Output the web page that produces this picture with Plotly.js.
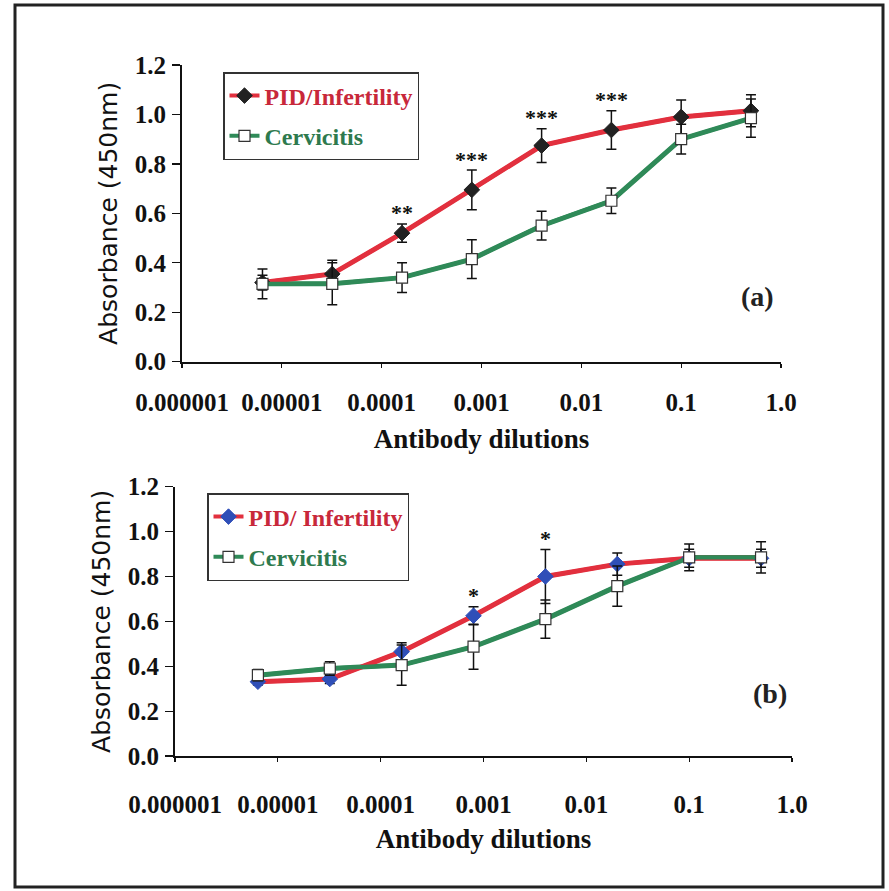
<!DOCTYPE html>
<html>
<head>
<meta charset="utf-8">
<script src="https://cdn.plot.ly/plotly-3.0.1.min.js"></script>
<style>
  html, body { margin: 0; padding: 0; background: #ffffff; }
  #chart { width: 889px; height: 891px; }
</style>
</head>
<body>
<div id="chart"></div>
<script>
// ---------- data ----------
const dilutions = [0.0000064, 0.000032, 0.00016, 0.0008, 0.004, 0.02, 0.1, 0.5];
const tickVals = [1e-6, 1e-5, 1e-4, 1e-3, 1e-2, 1e-1, 1];
const tickText = ['0.000001', '0.00001', '0.0001', '0.001', '0.01', '0.1', '1.0'];
const yTickVals = [0, 0.2, 0.4, 0.6, 0.8, 1.0, 1.2];
const yTickText = ['0.0', '0.2', '0.4', '0.6', '0.8', '1.0', '1.2'];

const namesA = ['PID/Infertility', 'Cervicitis'];
const namesB = ['PID/ Infertility', 'Cervicitis'];
const panelLabels = ['(a)', '(b)'];
const xTitle = 'Antibody dilutions';
const yTitle = 'Absorbance (450nm)';

// panel (a)
const pidA    = [0.32, 0.355, 0.52, 0.695, 0.874, 0.937, 0.99, 1.015];
const pidAErr = [0.03, 0.055, 0.037, 0.08, 0.068, 0.078, 0.068, 0.065];
const cerA    = [0.315, 0.315, 0.34, 0.415, 0.55, 0.651, 0.90, 0.985];
const cerAErr = [0.06, 0.085, 0.06, 0.078, 0.058, 0.052, 0.06, 0.077];
const sigA    = ['', '', '**', '***', '***', '***', '', ''];

// panel (b)
const pidB    = [0.331, 0.343, 0.465, 0.625, 0.80, 0.855, 0.881, 0.881];
const pidBErr = [0.015, 0.02, 0.04, 0.04, 0.12, 0.05, 0.04, 0.04];
const cerB    = [0.36, 0.39, 0.405, 0.487, 0.61, 0.757, 0.885, 0.885];
const cerBErr = [0.025, 0.03, 0.09, 0.1, 0.085, 0.09, 0.06, 0.07];
const sigB    = ['', '', '', '*', '*', '', '', ''];

// ---------- styles ----------
const RED = '#e2303e', RED_HI = '#f59aa4';
const GREEN = '#2f8a58', GREEN_HI = '#8fcfa8';
const SERIF = 'Liberation Serif, Times New Roman, serif';
const SANS = 'DejaVu Sans, sans-serif';

function errBar(arr) {
  return { type: 'data', array: arr, visible: true, color: '#111', thickness: 1.5, width: 5 };
}

function panelTraces(pid, pidErr, cer, cerErr, names, xa, ya, leg, pidMarkerColor) {
  return [
    { x: dilutions, y: cer, xaxis: xa, yaxis: ya, type: 'scatter', mode: 'lines',
      line: { color: GREEN, width: 5 }, showlegend: false, hoverinfo: 'skip' },
    { x: dilutions, y: cer, xaxis: xa, yaxis: ya, type: 'scatter', mode: 'lines',
      line: { color: GREEN_HI, width: 1 }, showlegend: false, hoverinfo: 'skip' },
    { x: dilutions, y: pid, xaxis: xa, yaxis: ya, type: 'scatter', mode: 'lines',
      line: { color: RED, width: 5 }, showlegend: false, hoverinfo: 'skip' },
    { x: dilutions, y: pid, xaxis: xa, yaxis: ya, type: 'scatter', mode: 'lines',
      line: { color: RED_HI, width: 1 }, showlegend: false, hoverinfo: 'skip' },
    { x: dilutions, y: pid, xaxis: xa, yaxis: ya, type: 'scatter', mode: 'lines+markers',
      name: '<span style="color:#c8283a">' + names[0] + '</span>',
      legend: leg, legendgroup: leg + 'p',
      line: { color: RED, width: 4 },
      marker: { symbol: 'diamond', size: 12, color: pidMarkerColor, line: { color: pidMarkerColor, width: 1 } },
      error_y: errBar(pidErr) },
    { x: dilutions, y: cer, xaxis: xa, yaxis: ya, type: 'scatter', mode: 'lines+markers',
      name: '<span style="color:#2e7a4e">' + names[1] + '</span>',
      legend: leg, legendgroup: leg + 'c',
      line: { color: GREEN, width: 4 },
      marker: { symbol: 'square', size: 11, color: '#ffffff', line: { color: '#333', width: 1.2 } },
      error_y: errBar(cerErr) }
  ];
}

const traces = [].concat(
  panelTraces(pidA, pidAErr, cerA, cerAErr, namesA, 'x', 'y', 'legend', '#222222'),
  panelTraces(pidB, pidBErr, cerB, cerBErr, namesB, 'x2', 'y2', 'legend2', '#2f4fb8')
);

function sigAnnotations(sig, pid, pidErr, xr, yr) {
  const out = [];
  sig.forEach((s, i) => {
    if (!s) return;
    out.push({ x: Math.log10(dilutions[i]), y: pid[i] + pidErr[i], xref: xr, yref: yr,
      text: s, showarrow: false, xanchor: 'center', yanchor: 'middle', yshift: 11,
      font: { family: SERIF, size: 22, color: '#111', weight: 'bold' } });
  });
  return out;
}

function xAxis(domain, anchor, standoff, titleStandoff) {
  return {
    type: 'log', range: [-6, 0], domain: domain, anchor: anchor,
    tickvals: tickVals, ticktext: tickText,
    ticks: 'outside', ticklen: 4, tickwidth: 1.2, tickcolor: '#111',
    showline: true, linecolor: '#111', linewidth: 2,
    showgrid: false, zeroline: false,
    ticklabelstandoff: standoff,
    tickfont: { family: SERIF, size: 25, color: '#111', weight: 'bold' },
    title: { text: xTitle, standoff: titleStandoff, font: { family: SERIF, size: 27, color: '#111', weight: 'bold' } },
    automargin: false
  };
}
function yAxis(domain, anchor, titleSize, titleStandoff) {
  return {
    range: [0, 1.2], domain: domain, anchor: anchor,
    tickvals: yTickVals, ticktext: yTickText,
    ticks: 'outside', ticklen: 8, tickwidth: 1.2, tickcolor: '#111',
    showline: true, linecolor: '#111', linewidth: 2,
    showgrid: false, zeroline: false,
    ticklabelstandoff: 1,
    tickfont: { family: SERIF, size: 25, color: '#111', weight: 'bold' },
    title: { text: yTitle, standoff: titleStandoff, font: { family: SANS, size: titleSize, color: '#111' } },
    automargin: false
  };
}

const W = 889, H = 891;
const layout = {
  width: W, height: H,
  margin: { l: 0, r: 0, t: 0, b: 0 },
  paper_bgcolor: '#ffffff', plot_bgcolor: 'rgba(0,0,0,0)',
  showlegend: true,
  xaxis:  xAxis([182 / W, 781 / W], 'y', 13, 14),
  yaxis:  yAxis([1 - 361.7 / H, 1 - 65 / H], 'x', 25, 10),
  xaxis2: xAxis([175 / W, 792 / W], 'y2', 21, 12),
  yaxis2: yAxis([1 - 756 / H, 1 - 486.7 / H], 'x2', 25, 10),
  legend: {
    x: 223 / W, y: 1 - 72 / H, xanchor: 'left', yanchor: 'top',
    bgcolor: '#ffffff', bordercolor: '#333', borderwidth: 1.5,
    traceorder: 'grouped', tracegroupgap: 6,
    font: { family: SERIF, size: 24, weight: 'bold' }
  },
  legend2: {
    x: 207 / W, y: 1 - 493 / H, xanchor: 'left', yanchor: 'top',
    bgcolor: '#ffffff', bordercolor: '#333', borderwidth: 1.5,
    traceorder: 'grouped', tracegroupgap: 6,
    font: { family: SERIF, size: 24, weight: 'bold' }
  },
  annotations: [].concat(
    sigAnnotations(sigA, pidA, pidAErr, 'x', 'y'),
    sigAnnotations(sigB, pidB, pidBErr, 'x2', 'y2'),
    [
      { x: 757 / W, y: 1 - 296 / H, xref: 'paper', yref: 'paper', text: panelLabels[0], showarrow: false,
        xanchor: 'center', yanchor: 'middle',
        font: { family: SERIF, size: 28, color: '#222', weight: 'bold' } },
      { x: 770 / W, y: 1 - 693 / H, xref: 'paper', yref: 'paper', text: panelLabels[1], showarrow: false,
        xanchor: 'center', yanchor: 'middle',
        font: { family: SERIF, size: 28, color: '#222', weight: 'bold' } }
    ]
  ),
  shapes: [
    { type: 'rect', xref: 'paper', yref: 'paper', x0: 15 / W, x1: 883 / W, y0: 1 - 887 / H, y1: 1 - 5 / H,
      line: { color: '#222', width: 3 } }
  ]
};

Plotly.newPlot('chart', traces, layout, { displayModeBar: false, staticPlot: true });
</script>
</body>
</html>
